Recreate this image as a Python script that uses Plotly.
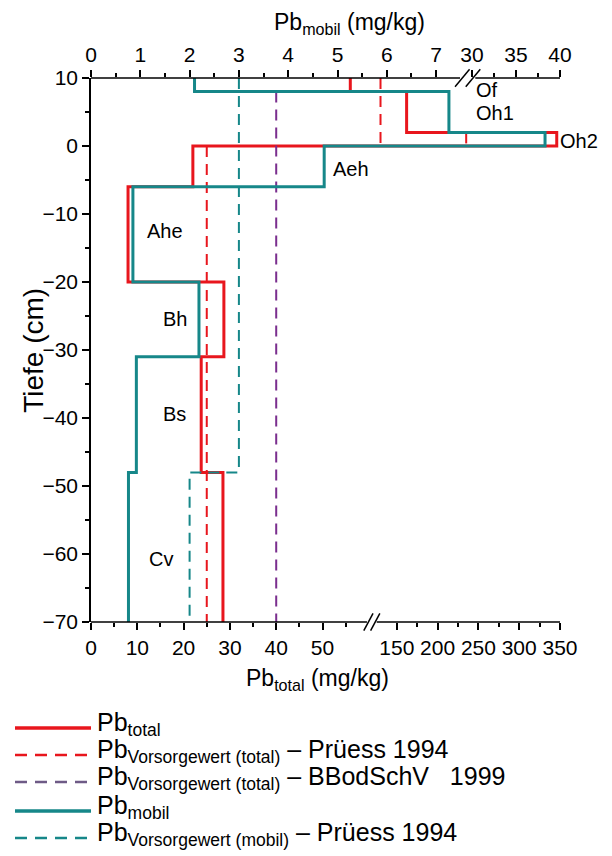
import plotly.graph_objects as go

# ---------------- data ----------------
layers = ["Of", "Oh1", "Oh2", "Aeh", "Ahe", "Bh", "Bs", "Cv"]
depth_top = [10, 8, 2, 0, -6, -20, -31, -48]
depth_bot = [8, 2, 0, -6, -20, -31, -48, -70]
pb_total = [56, 162, 346, 22, 8, 28.7, 23.8, 28.5]          # mg/kg
pb_mobil = [2.1, 7.26, 38.3, 4.73, 0.85, 2.19, 0.92, 0.76]  # mg/kg

# Vorsorgewerte
pruess_total_vals = [130, 235, 25]
pruess_total_top = [10, 2, 0]
pruess_total_bot = [0, 0, -70]
bbod_total_vals = [40]
bbod_total_top = [8]
bbod_total_bot = [-70]
pruess_mobil_vals = [3.0, 2.0]
pruess_mobil_top = [10, -48]
pruess_mobil_bot = [-48, -70]

# tick labels
bot_ticks_left = [0, 10, 20, 30, 40, 50]
bot_ticks_right = [150, 200, 250, 300, 350]
bot_minor_left = [5, 15, 25, 35, 45, 55]
bot_minor_right = [175, 225, 275, 325]
top_ticks_left = [0, 1, 2, 3, 4, 5, 6, 7]
top_ticks_right = [30, 35, 40]
top_minor_left = [0.5, 1.5, 2.5, 3.5, 4.5, 5.5, 6.5]
top_minor_right = [32.5, 37.5]

# ---------------- broken-axis scales ----------------
# bottom (Pb_total): 0..60 linear, then 125..350 compressed
BOT_LO_MAX = 60
BOT_HI_REF, BOT_HI_DISP, BOT_HI_SLOPE = 150, 66.05, 0.1762
BOT_RANGE = [0, BOT_HI_DISP + (350 - BOT_HI_REF) * BOT_HI_SLOPE]
BOT_BRK, BOT_GAP = 60.65, 1.05
# top (Pb_mobil): 0..7.5 linear, then 29.5..40 compressed
TOP_LO_MAX = 7.5
TOP_HI_REF, TOP_HI_DISP, TOP_HI_SLOPE = 30, 7.728, 0.1785
TOP_RANGE = [0, TOP_HI_DISP + (40 - TOP_HI_REF) * TOP_HI_SLOPE]
TOP_BRK, TOP_GAP = 7.64, 0.155


def scale_bot(v):
    if v is None:
        return None
    return v if v <= BOT_LO_MAX else BOT_HI_DISP + (v - BOT_HI_REF) * BOT_HI_SLOPE


def scale_top(v):
    if v is None:
        return None
    return v if v <= TOP_LO_MAX else TOP_HI_DISP + (v - TOP_HI_REF) * TOP_HI_SLOPE


def step(vals, tops, bots, connect=True):
    xs, ys = [], []
    for v, t, b in zip(vals, tops, bots):
        xs += [v, v]
        ys += [t, b]
        if not connect:
            xs.append(None)
            ys.append(None)
    return xs, ys


RED = "#e8161d"
TEAL = "#168789"
PURPLE = "#7a2e8e"
FONT = "Liberation Sans, Arial, sans-serif"

fig = go.Figure()

x, y = step(pb_total, depth_top, depth_bot)
fig.add_trace(go.Scatter(x=[scale_bot(v) for v in x], y=y, mode="lines",
                         line=dict(color=RED, width=3), xaxis="x", yaxis="y",
                         name="Pb total"))
x, y = step(pb_mobil, depth_top, depth_bot)
fig.add_trace(go.Scatter(x=[scale_top(v) for v in x], y=y, mode="lines",
                         line=dict(color=TEAL, width=3), xaxis="x2", yaxis="y",
                         name="Pb mobil"))
x, y = step(bbod_total_vals, bbod_total_top, bbod_total_bot, connect=False)
fig.add_trace(go.Scatter(x=[scale_bot(v) for v in x], y=y, mode="lines",
                         line=dict(color=PURPLE, width=2, dash="11px,7px"),
                         xaxis="x", yaxis="y", name="BBodSchV"))
x, y = step(pruess_mobil_vals, pruess_mobil_top, pruess_mobil_bot)
fig.add_trace(go.Scatter(x=[scale_top(v) for v in x], y=y, mode="lines",
                         line=dict(color=TEAL, width=2, dash="11px,7px"),
                         xaxis="x2", yaxis="y", name="Pruess mobil"))
x, y = step(pruess_total_vals, pruess_total_top, pruess_total_bot, connect=False)
fig.add_trace(go.Scatter(x=[scale_bot(v) for v in x], y=y, mode="lines",
                         line=dict(color=RED, width=2, dash="11px,7px"),
                         xaxis="x", yaxis="y", name="Pruess total"))

tick_common = dict(ticks="outside", ticklen=7, tickwidth=1.5, tickcolor="black",
                   showgrid=False, zeroline=False,
                   tickfont=dict(family=FONT, size=21, color="black"))

# page has an 8px body margin: figure is 8px smaller and margins shifted
fig.update_layout(
    width=604, height=848,
    margin=dict(l=83, r=52, t=70, b=234, pad=0),
    paper_bgcolor="white", plot_bgcolor="white",
    showlegend=False,
    font=dict(family=FONT, color="black"),
    xaxis=dict(domain=[0, 1], range=BOT_RANGE, anchor="y", side="bottom",
               showline=False,
               tickmode="array",
               tickvals=[scale_bot(v) for v in bot_ticks_left + bot_ticks_right],
               ticktext=[str(v) for v in bot_ticks_left + bot_ticks_right],
               minor=dict(tickmode="array",
                          tickvals=[scale_bot(v) for v in bot_minor_left + bot_minor_right],
                          ticks="outside", ticklen=4, tickwidth=1.5, tickcolor="black"),
               **tick_common),
    xaxis2=dict(range=TOP_RANGE, anchor="y", overlaying="x", side="top",
                showline=False,
                tickmode="array",
                tickvals=[scale_top(v) for v in top_ticks_left + top_ticks_right],
                ticktext=[str(v) for v in top_ticks_left + top_ticks_right],
                minor=dict(tickmode="array",
                           tickvals=[scale_top(v) for v in top_minor_left + top_minor_right],
                           ticks="outside", ticklen=4, tickwidth=1.5, tickcolor="black"),
                **tick_common),
    yaxis=dict(range=[-70, 10], tickmode="linear", tick0=0, dtick=10,
               showline=True, linewidth=1.5, linecolor="black",
               minor=dict(dtick=5, ticks="outside", ticklen=4, tickwidth=1.5,
                          tickcolor="black"),
               **tick_common),
)

# axis lines with breaks
shapes = []
for xref, lo, hi, brk, gap, yy in [("x", BOT_RANGE[0], BOT_RANGE[1], BOT_BRK, BOT_GAP, 0),
                                    ("x2", TOP_RANGE[0], TOP_RANGE[1], TOP_BRK, TOP_GAP, 1)]:
    shapes.append(dict(type="line", xref=xref, yref="paper", x0=lo, x1=brk - gap,
                       y0=yy, y1=yy, line=dict(color="black", width=1.5)))
    shapes.append(dict(type="line", xref=xref, yref="paper", x0=brk + gap, x1=hi,
                       y0=yy, y1=yy, line=dict(color="black", width=1.5)))
    w = gap * 0.95
    for off in (-0.7 * gap, 0.7 * gap):
        shapes.append(dict(type="line", xref=xref, yref="paper",
                           x0=brk + off - w, x1=brk + off + w,
                           y0=yy - 0.016, y1=yy + 0.016,
                           line=dict(color="black", width=1.5)))

# layer labels
label_pos = {  # (paper x, depth, xanchor)
    "Of": (0.817, 8.2, "left"),
    "Oh1": (0.817, 4.85, "left"),
    "Oh2": (0.995, 0.8, "left"),
    "Aeh": (0.512, -3.4, "left"),
    "Ahe": (0.158, -12.5, "center"),
    "Bh": (0.179, -25.4, "center"),
    "Bs": (0.179, -39.4, "center"),
    "Cv": (0.149, -60.7, "center"),
}
annotations = []
for name in layers:
    px, dep, anc = label_pos[name]
    annotations.append(dict(text=name, x=px, y=dep, xref="paper", yref="y",
                            xanchor=anc, yanchor="middle", showarrow=False,
                            font=dict(family=FONT, size=20, color="black")))

# axis titles
annotations.append(dict(text="Pb<sub>mobil</sub> (mg/kg)", x=0.552, y=1.1,
                        xref="paper", yref="paper", showarrow=False,
                        xanchor="center", yanchor="middle",
                        font=dict(family=FONT, size=23, color="black")))
annotations.append(dict(text="Pb<sub>total</sub> (mg/kg)", x=0.484, y=-0.105,
                        xref="paper", yref="paper", showarrow=False,
                        xanchor="center", yanchor="middle",
                        font=dict(family=FONT, size=23, color="black")))
annotations.append(dict(text="Tiefe (cm)", x=-0.124, y=0.5, xref="paper",
                        yref="paper", showarrow=False, textangle=-90,
                        xanchor="center", yanchor="middle",
                        font=dict(family=FONT, size=28, color="black")))

# legend (manual)
legend_items = [
    ("Pb<sub>total</sub>", RED, "solid"),
    ("Pb<sub>Vorsorgewert (total)</sub> – Prüess 1994", RED, "dash"),
    ("Pb<sub>Vorsorgewert (total)</sub> – BBodSchV   1999", "#6e5a86", "dash"),
    ("Pb<sub>mobil</sub>", TEAL, "solid"),
    ("Pb<sub>Vorsorgewert (mobil)</sub> – Prüess 1994", TEAL, "dash"),
]
row_y = [728, 755, 782, 811, 838]
for (txt, col, sty), ry in zip(legend_items, row_y):
    yp = (622 - ry) / 544.0
    shapes.append(dict(type="line", xref="paper", yref="paper",
                       x0=(15 - 91) / 469, x1=(91 - 91) / 469, y0=yp, y1=yp,
                       line=dict(color=col, width=3.5 if sty == "solid" else 2.5,
                                 dash="solid" if sty == "solid" else "12px,8px")))
    annotations.append(dict(text=txt, x=(95 - 91) / 469, y=yp + 0.008,
                            xref="paper", yref="paper", showarrow=False,
                            xanchor="left", yanchor="middle",
                            font=dict(family=FONT, size=25, color="black")))
fig.update_layout(shapes=shapes, annotations=annotations)

fig.write_html("out.html")
